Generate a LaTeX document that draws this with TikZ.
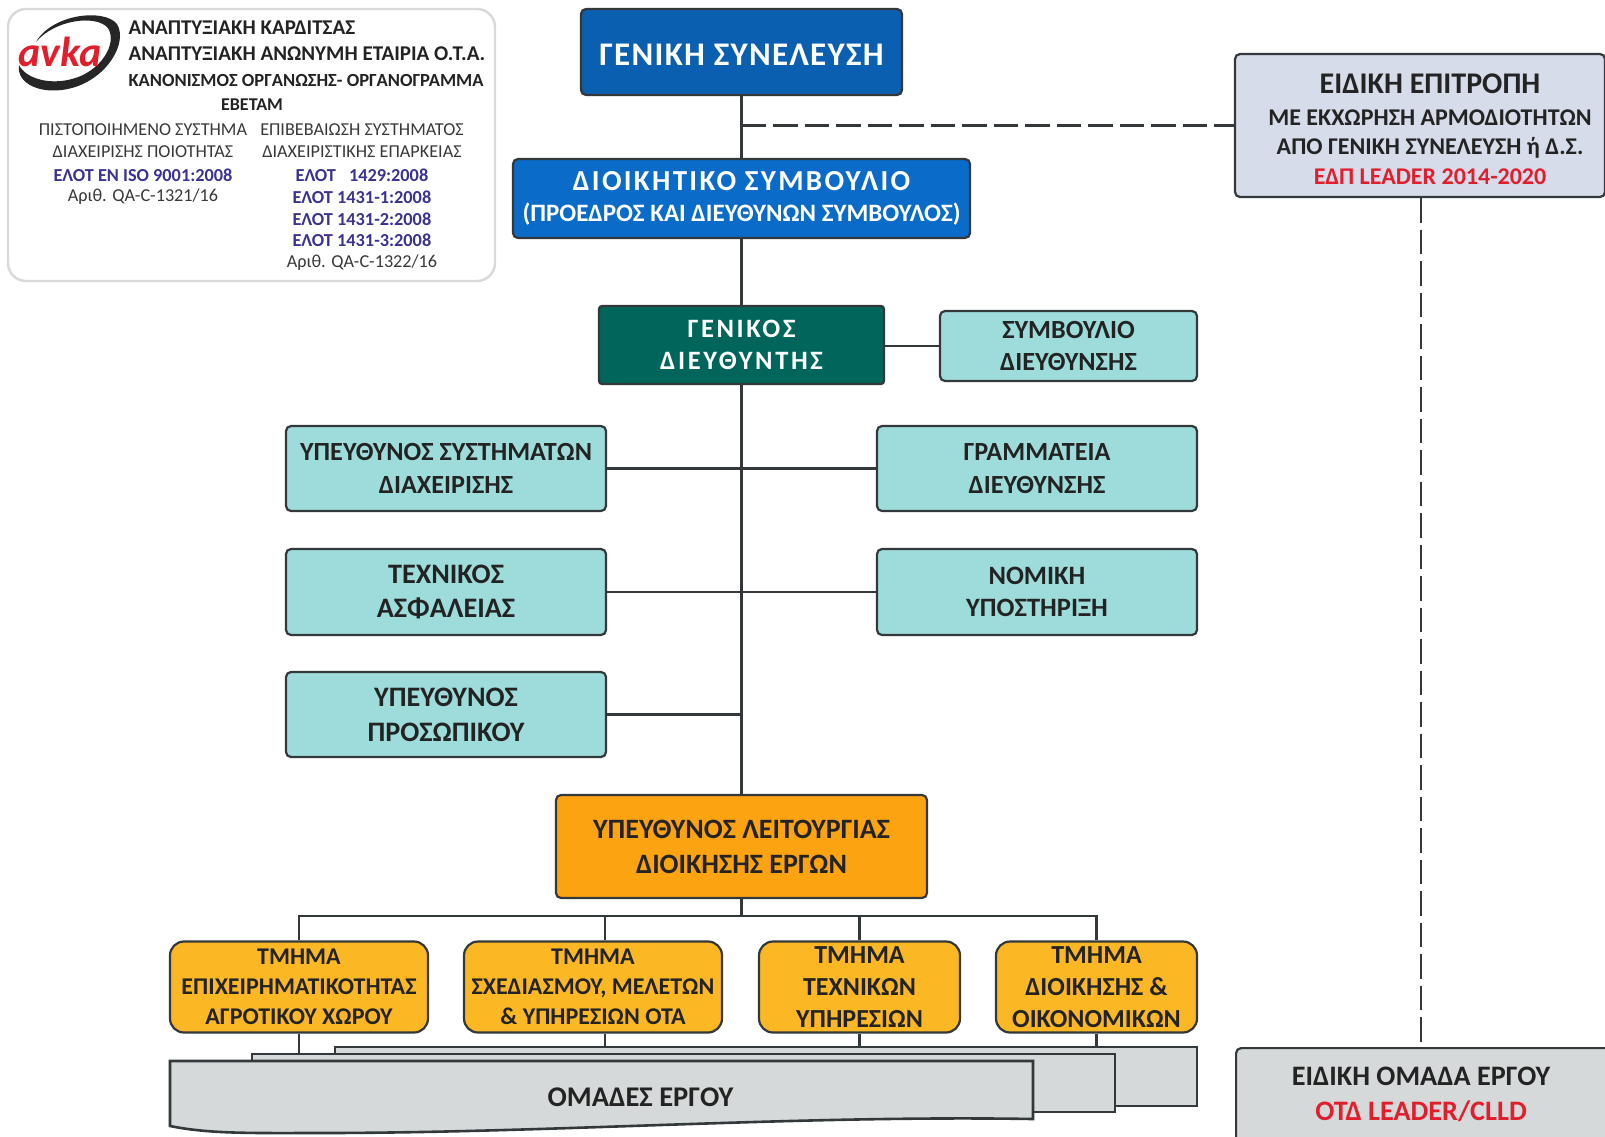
\documentclass[tikz,border=0pt]{standalone}
\usepackage{fontspec}
\setmainfont{Carlito}
\definecolor{linegray}{HTML}{33383A}
\definecolor{textdark}{HTML}{232323}
\definecolor{bluetop}{HTML}{0A5FB0}
\definecolor{bluemid}{HTML}{0B6BC8}
\definecolor{greendark}{HTML}{00665C}
\definecolor{tealbox}{HTML}{9EDCDC}
\definecolor{orangebox}{HTML}{FCA311}
\definecolor{yellowbox}{HTML}{FBB824}
\definecolor{graybox}{HTML}{D6D9D9}
\definecolor{paleblue}{HTML}{D6DCEA}
\definecolor{redtext}{HTML}{E21E2D}
\definecolor{navytext}{HTML}{3B3391}
\tikzset{
  orgbox/.style={draw=linegray,line width=2.2pt,rounded corners=5pt,align=center,inner sep=0pt,text=textdark},
  bluebox/.style={orgbox,text=white},
  tealnode/.style={orgbox,fill=tealbox,font=\bfseries\fontsize{26.2}{32.5}\selectfont},
  deptbox/.style={orgbox,fill=yellowbox,rounded corners=14pt,font=\bfseries\fontsize{24}{30}\selectfont},
  link/.style={draw=linegray,line width=2.6pt},
  dashlink/.style={draw=linegray,line width=2.6pt,dash pattern=on 24.5pt off 7pt},
  docsheet/.style={draw=linegray,line width=2.6pt,fill=graybox},
  headline/.style={font=\bfseries\fontsize{21}{24}\selectfont,text=textdark},
  certline/.style={font=\fontsize{18.2}{21}\selectfont,text=textdark!90},
  certbold/.style={font=\bfseries\fontsize{18.3}{21}\selectfont,text=navytext}
}
\begin{document}
\begin{tikzpicture}[x=1pt,y=-1pt]
    \useasboundingbox (0,0) rectangle (1605,1136);

    % Header card
    \draw[draw=black!15,line width=2.4pt,fill=white,rounded corners=18pt] (8,9) rectangle (495,281);

    % Logo
    \fill[black!85] (36,42) .. controls (52,14) and (104,8) .. (117,24)
        .. controls (128,42) and (108,78) .. (72,88)
        .. controls (42,96) and (16,84) .. (19,65)
        .. controls (26,79) and (50,85) .. (72,79)
        .. controls (100,72) and (118,44) .. (108,28)
        .. controls (96,14) and (54,20) .. (36,42) -- cycle;
    \node[text=redtext,font=\bfseries\itshape\fontsize{42}{42}\selectfont] (logoname) at (60,52) {avka};

    % Header text
    \node[headline,anchor=west] (head1) at (125,28) {ΑΝΑΠΤΥΞΙΑΚΗ ΚΑΡΔΙΤΣΑΣ};
    \node[headline,anchor=west] (head2) at (125,54) {ΑΝΑΠΤΥΞΙΑΚΗ ΑΝΩΝΥΜΗ ΕΤΑΙΡΙΑ Ο.Τ.Α.};
    \node[headline,anchor=west,font=\bfseries\fontsize{18.5}{22}\selectfont] (head3) at (125,80) {ΚΑΝΟΝΙΣΜΟΣ ΟΡΓΑΝΩΣΗΣ- ΟΡΓΑΝΟΓΡΑΜΜΑ};
    \node[headline,font=\bfseries\fontsize{18}{22}\selectfont] (head4) at (252,105) {ΕΒΕΤΑΜ};

    % Certificates, left column
    \node[certline] (certa1) at (143,130) {ΠΙΣΤΟΠΟΙΗΜΕΝΟ ΣΥΣΤΗΜΑ};
    \node[certline] (certa2) at (143,152) {ΔΙΑΧΕΙΡΙΣΗΣ ΠΟΙΟΤΗΤΑΣ};
    \node[certbold] (certa3) at (143,175) {ΕΛΟΤ ΕΝ ISO 9001:2008};
    \node[certline] (certa4) at (143,197) {Αριθ. QA-C-1321/16};

    % Certificates, right column
    \node[certline] (certb1) at (362,130) {ΕΠΙΒΕΒΑΙΩΣΗ ΣΥΣΤΗΜΑΤΟΣ};
    \node[certline] (certb2) at (362,152) {ΔΙΑΧΕΙΡΙΣΤΙΚΗΣ ΕΠΑΡΚΕΙΑΣ};
    \node[certbold] (certb3) at (362,175) {ΕΛΟΤ\hspace{13pt}1429:2008};
    \node[certbold] (certb4) at (362,197) {ΕΛΟΤ 1431-1:2008};
    \node[certbold] (certb5) at (362,219) {ΕΛΟΤ 1431-2:2008};
    \node[certbold] (certb6) at (362,240) {ΕΛΟΤ 1431-3:2008};
    \node[certline] (certb7) at (362,263) {Αριθ. QA-C-1322/16};

    % Top of the chart
    \node[bluebox,fill=bluetop,minimum width=321pt,minimum height=86pt,font=\bfseries\fontsize{33}{34}\addfontfeature{LetterSpace=4}\selectfont] (assembly) at (741.5,52) {\raisebox{-3pt}[\height][\depth]{ΓΕΝΙΚΗ ΣΥΝΕΛΕΥΣΗ}};
    \node[orgbox,fill=bluemid,text=white,minimum width=457pt,minimum height=79pt,font=\bfseries\fontsize{29}{34}\selectfont] (board) at (741.5,198.5) {{\addfontfeature{LetterSpace=8}ΔΙΟΙΚΗΤΙΚΟ ΣΥΜΒΟΥΛΙΟ}\\[-3pt]{\fontsize{25}{30}\selectfont (ΠΡΟΕΔΡΟΣ ΚΑΙ ΔΙΕΥΘΥΝΩΝ ΣΥΜΒΟΥΛΟΣ)}};
    \node[bluebox,fill=greendark,minimum width=285pt,minimum height=78pt,rounded corners=3pt,font=\bfseries\fontsize{26.5}{32}\addfontfeature{LetterSpace=10}\selectfont] (director) at (741.5,345) {ΓΕΝΙΚΟΣ\\ΔΙΕΥΘΥΝΤΗΣ};
    \node[tealnode,minimum width=257pt,minimum height=70pt] (council) at (1068.5,346) {ΣΥΜΒΟΥΛΙΟ\\ΔΙΕΥΘΥΝΣΗΣ};

    % Staff boxes
    \node[tealnode,minimum width=320pt,minimum height=85pt] (systems) at (446,468.5) {ΥΠΕΥΘΥΝΟΣ ΣΥΣΤΗΜΑΤΩΝ\\ΔΙΑΧΕΙΡΙΣΗΣ};
    \node[tealnode,minimum width=320pt,minimum height=85pt] (secretary) at (1037,468.5) {ΓΡΑΜΜΑΤΕΙΑ\\ΔΙΕΥΘΥΝΣΗΣ};
    \node[tealnode,minimum width=320pt,minimum height=86pt,font=\bfseries\fontsize{28.2}{34}\selectfont] (safety) at (446,592) {ΤΕΧΝΙΚΟΣ\\ΑΣΦΑΛΕΙΑΣ};
    \node[tealnode,minimum width=320pt,minimum height=86pt,font=\bfseries\fontsize{26.5}{32.5}\selectfont] (legal) at (1037,592) {ΝΟΜΙΚΗ\\ΥΠΟΣΤΗΡΙΞΗ};
    \node[tealnode,minimum width=320pt,minimum height=85pt,font=\bfseries\fontsize{28.2}{35}\selectfont] (personnel) at (446,714.5) {ΥΠΕΥΘΥΝΟΣ\\ΠΡΟΣΩΠΙΚΟΥ};

    % Project management
    \node[orgbox,fill=orangebox,minimum width=371pt,minimum height=103pt,font=\bfseries\fontsize{28}{35}\selectfont] (manager) at (741.5,846.5) {ΥΠΕΥΘΥΝΟΣ ΛΕΙΤΟΥΡΓΙΑΣ\\ΔΙΟΙΚΗΣΗΣ ΕΡΓΩΝ};

    % Departments
    \node[deptbox,minimum width=258pt,minimum height=91pt] (deptfarm) at (299,987) {ΤΜΗΜΑ\\ΕΠΙΧΕΙΡΗΜΑΤΙΚΟΤΗΤΑΣ\\ΑΓΡΟΤΙΚΟΥ ΧΩΡΟΥ};
    \node[deptbox,minimum width=258pt,minimum height=91pt] (deptplan) at (593,987) {ΤΜΗΜΑ\\ΣΧΕΔΙΑΣΜΟΥ, ΜΕΛΕΤΩΝ\\\& ΥΠΗΡΕΣΙΩΝ ΟΤΑ};
    \node[deptbox,minimum width=201pt,minimum height=91pt,font=\bfseries\fontsize{26}{32}\selectfont] (depttech) at (859.5,987) {ΤΜΗΜΑ\\ΤΕΧΝΙΚΩΝ\\ΥΠΗΡΕΣΙΩΝ};
    \node[deptbox,minimum width=201pt,minimum height=91pt,font=\bfseries\fontsize{26}{32}\selectfont] (deptadmin) at (1096.5,987) {ΤΜΗΜΑ\\ΔΙΟΙΚΗΣΗΣ \&\\ΟΙΚΟΝΟΜΙΚΩΝ};

    % Project team sheets
    \draw[docsheet] (335,1047) rectangle (1197,1106);
    \draw[docsheet] (252,1054) rectangle (1115,1112);
    \draw[docsheet] (170,1061) -- (1033,1061) -- (1033,1119)
        .. controls (800,1115) and (550,1133) .. (320,1133)
        .. controls (250,1133) and (210,1134) .. (170,1126) -- cycle;
    \node[font=\bfseries\fontsize{28.5}{30}\selectfont,text=textdark] (teams) at (640.5,1097) {ΟΜΑΔΕΣ ΕΡΓΟΥ};

    % Special committee
    \node[orgbox,fill=paleblue,minimum width=370pt,minimum height=143pt] (committee) at (1420,125.5) {};
    \node[font=\bfseries\fontsize{24}{29.5}\selectfont,align=center,text=textdark] (committeelabel) at (1430,129) {{\fontsize{30}{33}\selectfont ΕΙΔΙΚΗ ΕΠΙΤΡΟΠΗ}\\[2pt]ΜΕ ΕΚΧΩΡΗΣΗ ΑΡΜΟΔΙΟΤΗΤΩΝ\\ΑΠΟ ΓΕΝΙΚΗ ΣΥΝΕΛΕΥΣΗ ή Δ.Σ.\\\textcolor{redtext}{ΕΔΠ LEADER 2014-2020}};

    % Special project team
    \node[orgbox,fill=graybox,minimum width=380pt,minimum height=100pt,anchor=north west] (specialteam) at (1235,1047) {};
    \node[font=\bfseries\fontsize{28.2}{35}\selectfont,align=center,text=textdark] (teamlabel) at (1421,1094) {ΕΙΔΙΚΗ ΟΜΑΔΑ ΕΡΓΟΥ\\\textcolor{redtext}{ΟΤΔ LEADER/CLLD}};

    % Named points on the lines
    \coordinate (bus) at (741.5,916);
    \coordinate (planlink) at (605,0);
    \coordinate (dashcorner) at (1421,0);
    \coordinate (sheetback) at (0,1047);
    \coordinate (sheetmid) at (0,1054);

    % Solid connectors
    \draw[link] (assembly.south) -- (board.north);
    \draw[link] (board.south) -- (director.north);
    \draw[link] (director.south) -- (manager.north);
    \draw[link] (council.west -| director.east) -- (council.west);
    \draw[link] (systems.east) -- (secretary.west);
    \draw[link] (safety.east) -- (legal.west);
    \draw[link] (personnel.east) -- (personnel.east -| manager.north);

    % Department bus
    \draw[link] (manager.south) -- (bus);
    \draw[link] (deptfarm.north) -- (deptfarm.north |- bus) -- (deptadmin.north |- bus) -- (deptadmin.north);
    \draw[link] (deptplan.north -| planlink) -- (bus -| planlink);
    \draw[link] (depttech.north) -- (depttech.north |- bus);

    % Departments down to the sheets
    \draw[link] (deptfarm.south) -- (deptfarm.south |- sheetmid);
    \draw[link] (deptplan.south -| planlink) -- (sheetback -| planlink);
    \draw[link] (depttech.south) -- (depttech.south |- sheetback);
    \draw[link] (deptadmin.south) -- (deptadmin.south |- sheetback);

    % Dashed connectors
    \draw[dashlink] (committee.west -| assembly.south) -- (committee.west);
    \draw[dashlink] (committee.south -| dashcorner) -- (specialteam.north -| dashcorner);

\end{tikzpicture}
\end{document}
